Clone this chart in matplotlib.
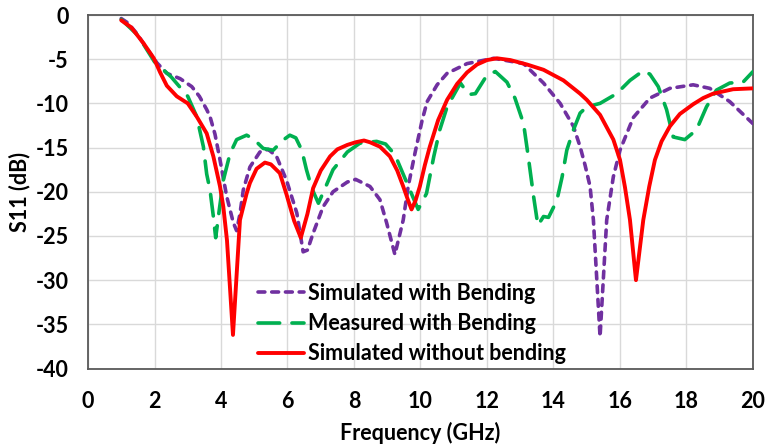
import matplotlib
matplotlib.use("Agg")
import matplotlib.pyplot as plt

# ---- data ----
freq_red = [1.0, 1.3, 1.67, 1.98, 2.17, 2.37, 2.67, 3.0, 3.27, 3.57, 3.77, 3.97, 4.07, 4.18, 4.36,
            4.57, 4.77, 4.87, 5.07, 5.32, 5.5, 5.77, 5.97, 6.2, 6.4, 6.6, 6.77, 7.0, 7.28, 7.5, 7.8,
            8.05, 8.3, 8.48, 8.78, 9.08, 9.3, 9.48, 9.62, 9.73, 9.85, 9.98, 10.13, 10.28, 10.53, 10.8,
            11.1, 11.4, 11.7, 12.0, 12.3, 12.7, 13.2, 13.7, 14.3, 14.8, 15.0, 15.4, 15.8, 16.0, 16.15,
            16.3, 16.48, 16.7, 16.88, 17.05, 17.25, 17.5, 17.8, 18.2, 18.5, 18.8, 19.4, 20.0]
s11_red = [-0.6, -1.4, -3.2, -4.9, -6.5, -8.0, -9.2, -10.0, -11.5, -13.4, -16.0, -19.4, -21.7, -25.5, -36.2,
           -23.2, -20.2, -19.0, -17.4, -16.7, -16.9, -17.9, -20.3, -23.3, -25.2, -22.5, -19.6, -17.6, -16.0, -15.2, -14.7,
           -14.4, -14.2, -14.4, -14.9, -16.0, -17.6, -19.4, -20.9, -22.0, -21.0, -19.4, -17.0, -14.9, -11.9, -9.6,
           -7.8, -6.5, -5.6, -5.1, -4.9, -5.1, -5.6, -6.2, -7.4, -8.9, -9.6, -11.3, -14.1, -16.4, -19.5,
           -23.2, -30.0, -23.2, -19.4, -16.4, -14.3, -12.6, -11.2, -10.1, -9.4, -8.9, -8.4, -8.3]

freq_purple = [1.0, 1.2, 1.47, 1.77, 2.07, 2.37, 2.77, 3.12, 3.35, 3.57, 3.67, 3.82, 3.97, 4.17, 4.37, 4.47,
               4.57, 4.67, 4.87, 5.17, 5.42, 5.67, 5.97, 6.28, 6.47, 6.6, 6.77, 7.07, 7.37, 7.8, 8.05,
               8.48, 8.78, 8.98, 9.23, 9.48, 9.63, 9.83, 10.05, 10.2, 10.5, 10.8, 11.4, 12.2, 13.1, 13.7,
               14.2, 14.6, 14.8, 14.95, 15.1, 15.2, 15.4, 15.6, 15.8, 16.0, 16.4, 16.9, 17.5, 18.2, 18.7,
               19.3, 20.0]
s11_purple = [-0.4, -0.9, -2.1, -3.8, -5.4, -6.6, -7.2, -8.1, -9.2, -10.7, -11.5, -13.5, -16.4, -20.5, -23.5, -24.4,
              -22.5, -19.8, -17.2, -15.5, -15.2, -16.0, -18.7, -22.4, -26.8, -26.6, -24.7, -21.7, -20.0, -18.9, -18.6,
              -19.4, -20.9, -23.5, -27.1, -23.2, -19.4, -15.7, -11.9, -9.8, -7.9, -6.6, -5.5, -4.9, -5.5, -7.7,
              -10.0, -12.6, -14.9, -17.0, -19.4, -23.2, -36.4, -23.2, -18.3, -15.3, -11.6, -9.4, -8.3, -7.9, -8.3,
              -9.8, -12.3]

freq_green = [1.0, 1.5, 2.0, 2.5, 3.0, 3.27, 3.47, 3.57, 3.67, 3.77, 3.84, 3.95, 4.07, 4.27, 4.47, 4.77,
              4.97, 5.27, 5.57, 5.85, 6.07, 6.25, 6.43, 6.57, 6.73, 6.93, 7.13, 7.37, 7.8, 8.18, 8.68,
              8.95, 9.23, 9.58, 9.93, 10.18, 10.4, 10.58, 10.8, 11.2, 11.45, 11.65, 12.0, 12.25, 12.6, 12.84,
              13.1, 13.24, 13.4, 13.53, 13.7, 13.85, 14.1, 14.26, 14.4, 14.6, 14.8, 15.0, 15.4, 15.9, 16.3,
              16.7, 16.9, 17.15, 17.4, 17.6, 17.95, 18.3, 18.6, 18.9, 19.3, 19.7, 20.0]
s11_green = [-0.5, -2.3, -5.3, -7.0, -9.2, -11.5, -14.9, -18.0, -19.8, -22.8, -25.2, -22.0, -18.7, -15.7, -14.1, -13.6,
             -14.0, -15.1, -15.3, -14.2, -13.6, -13.9, -15.3, -17.5, -19.6, -21.3, -19.6, -17.5, -15.5, -14.5, -14.3,
             -14.6, -15.8, -18.9, -22.0, -20.2, -16.0, -13.0, -10.4, -7.7, -9.0, -8.9, -6.8, -6.4, -7.6, -9.4,
             -12.3, -16.0, -20.5, -23.8, -22.8, -22.9, -21.0, -18.3, -15.3, -13.0, -11.1, -10.4, -10.0, -8.9, -7.4,
             -6.3, -6.7, -8.1, -10.7, -13.8, -14.1, -13.0, -10.4, -8.5, -7.7, -7.6, -6.4]

labels = ["Simulated with Bending", "Measured with Bending", "Simulated without bending"]
x_ticks = [0, 2, 4, 6, 8, 10, 12, 14, 16, 18, 20]
y_ticks = [0, -5, -10, -15, -20, -25, -30, -35, -40]

# ---- figure ----
plt.rcParams['font.family'] = ['Lato', 'DejaVu Sans']
plt.rcParams['font.weight'] = 'bold'

fig = plt.figure(figsize=(7.69, 4.47), dpi=100)
ax = fig.add_axes([88 / 769, 1 - 368.5 / 447, 665 / 769, 353.5 / 447])

FS = 15.5
ax.plot(freq_purple, s11_purple, color='#7030A0', lw=2.6, linestyle=(0, (1.9, 1.9)),
        dash_capstyle='round', label=labels[0], zorder=3)
ax.plot(freq_green, s11_green, color='#00B050', lw=2.6, linestyle=(0, (6.0, 3.4)),
        dash_capstyle='round', label=labels[1], zorder=3)
ax.plot(freq_red, s11_red, color='#FF0000', lw=2.8, solid_capstyle='round',
        solid_joinstyle='round', label=labels[2], zorder=4)

ax.set_xlim(0, 20)
ax.set_ylim(-40, 0)
ax.set_xticks(x_ticks)
ax.set_yticks(y_ticks)
ax.set_xticklabels([str(t) for t in x_ticks])
ax.set_yticklabels([str(t) for t in y_ticks])
ax.tick_params(axis='both', length=0, labelsize=FS)
ax.tick_params(axis='x', pad=16)
ax.tick_params(axis='y', pad=14)
ax.grid(True, color='#D9D9D9', lw=1.0)
ax.set_axisbelow(True)
for sp in ax.spines.values():
    sp.set_color('#595959')
    sp.set_linewidth(1.3)

ax.set_xlabel("Frequency (GHz)", fontsize=FS, fontweight='bold', labelpad=7)
ax.set_ylabel("S11 (dB)", fontsize=FS, fontweight='bold', labelpad=4)

leg = ax.legend(loc='upper left', bbox_to_anchor=((258 - 88) / 665, (368.5 - 283) / 353.5),
                frameon=False, fontsize=FS, handlelength=2.15, handletextpad=0.15,
                labelspacing=0.42, borderpad=0, borderaxespad=0)

fig.savefig("out.png", dpi=100)
